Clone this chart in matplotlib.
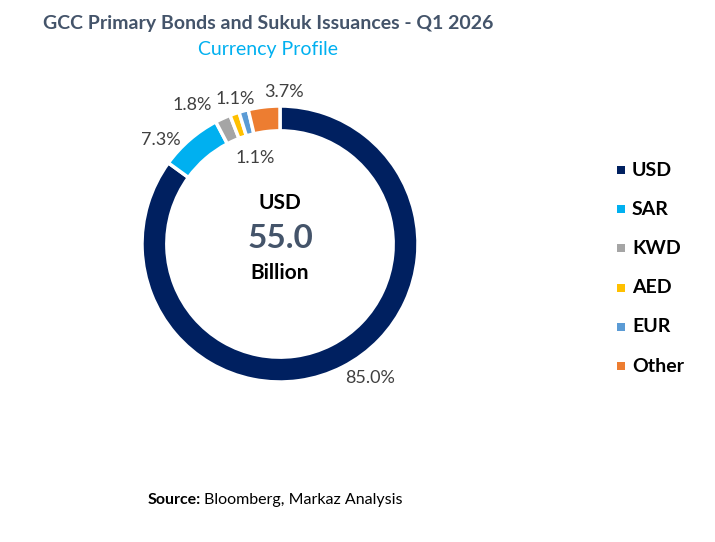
import numpy as np
import matplotlib
matplotlib.use("Agg")
import matplotlib.pyplot as plt
from matplotlib.patches import Rectangle

plt.rcParams['font.family'] = ['Lato', 'DejaVu Sans']

# data
currencies = ['USD', 'SAR', 'KWD', 'AED', 'EUR', 'Other']
shares = [85.0, 7.3, 1.8, 1.1, 1.1, 3.7]
colors = ['#002060', '#00B0F0', '#A5A5A5', '#FFC000', '#5B9BD5', '#ED7D31']
total_bn = 55.0

# label placement (radius factor, angle nudge in degrees) - tuned by eye
label_r = [1.17, 1.15, 1.19, 1.10, 0.65, 1.10]
label_nudge = [7, 8, 8, -2, 1, -8]

W, H = 715, 542
fig = plt.figure(figsize=(W / 100, H / 100), dpi=100)

# donut axes: centre at (280, 244) px, radius 138 px
cx, cy, R = 280, 244, 138
ax = fig.add_axes([(cx - R) / W, (H - cy - R) / H, 2 * R / W, 2 * R / H])
wedges, _ = ax.pie(shares, colors=colors, startangle=90, counterclock=False,
                   radius=1.0, wedgeprops=dict(width=0.18, edgecolor='white', linewidth=2.5))
ax.set_xlim(-1, 1)
ax.set_ylim(-1, 1)
ax.set_aspect('equal')
ax.axis('off')

for w, s, rf, nd in zip(wedges, shares, label_r, label_nudge):
    ang = np.deg2rad((w.theta1 + w.theta2) / 2 + nd)
    ax.text(rf * np.cos(ang), rf * np.sin(ang), f"{s:.1f}%", ha='center', va='center',
            fontsize=13, color='#404040', clip_on=False)

# centre text
ax.text(0, 0.30, 'USD', ha='center', va='center', fontsize=15, fontweight='bold', color='black')
ax.text(0, 0.04, f"{total_bn:.1f}", ha='center', va='center', fontsize=24, fontweight='bold', color='#44546A')
ax.text(0, -0.21, 'Billion', ha='center', va='center', fontsize=15, fontweight='bold', color='black')

# titles
fig.text(268 / W, 1 - 24 / H, 'GCC Primary Bonds and Sukuk Issuances - Q1 2026', ha='center', va='center',
         fontsize=14, fontweight='bold', color='#44546A')
fig.text(268 / W, 1 - 50 / H, 'Currency Profile', ha='center', va='center',
         fontsize=14, color='#00B0F0')

# legend
y0, dy = 170, 39.2
for i, (name, c) in enumerate(zip(currencies, colors)):
    y = y0 + i * dy
    fig.patches.append(Rectangle((617 / W, 1 - (y + 4) / H), 8 / W, 8 / H,
                                 transform=fig.transFigure, facecolor=c, edgecolor='none'))
    fig.text(632 / W, 1 - y / H, name, ha='left', va='center', fontsize=14,
             fontweight='bold', color='black')

# source
src = fig.text(148 / W, 1 - 500 / H, 'Source:', ha='left', va='center', fontsize=11.5,
               fontweight='bold', color='black')
fig.canvas.draw()
bb = src.get_window_extent()
fig.text(bb.x1 / W + 3 / W, 1 - 500 / H, 'Bloomberg, Markaz Analysis', ha='left', va='center',
         fontsize=11.5, color='black')

fig.savefig('out.png', dpi=100, facecolor='white')
